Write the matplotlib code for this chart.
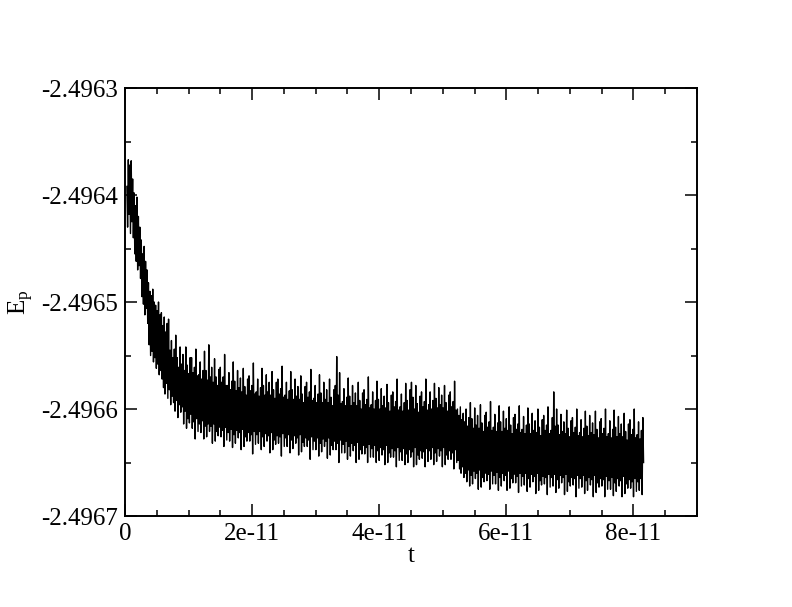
import numpy as np
import matplotlib
matplotlib.use('Agg')
import matplotlib.pyplot as plt
from matplotlib.ticker import MultipleLocator, FixedFormatter, FixedLocator

# time axis: first and last sample time of the run (s)
t_start = 0.03e-11
t_end = 8.16e-11

# potential energy in units of 1e-6 below -2.4960
ep_below = [
    392, 430, 367, 418, 372, 436, 368, 425, 385, 440,
    398, 455, 410, 462, 402, 470, 420, 466, 430, 478,
    442, 495, 455, 502, 448, 512, 462, 506, 470, 520,
    482, 540, 490, 550, 494, 546, 488, 556, 500, 552,
    503, 562, 508, 558, 500, 568, 512, 564, 510, 572,
    522, 580, 514, 586, 528, 576, 520, 590, 516, 582,
    545, 596, 536, 588, 552, 594, 544, 602, 531, 592,
    552, 608, 561, 596, 542, 603, 558, 598, 549, 614,
    564, 602, 542, 618, 559, 609, 567, 613, 552, 605,
    552, 618, 566, 612, 561, 628, 544, 609, 569, 621,
    568, 614, 556, 622, 572, 611, 564, 628, 546, 616,
    564, 626, 573, 614, 540, 621, 570, 616, 561, 632,
    575, 614, 553, 630, 570, 621, 578, 625, 563, 617,
    561, 626, 575, 620, 570, 635, 549, 617, 578, 629,
    578, 622, 566, 630, 582, 619, 574, 636, 556, 624,
    574, 632, 583, 620, 564, 627, 580, 622, 571, 638,
    584, 619, 562, 635, 579, 626, 587, 630, 572, 622,
    569, 630, 583, 624, 578, 642, 557, 621, 586, 633,
    584, 624, 572, 632, 588, 621, 580, 638, 562, 626,
    578, 635, 587, 623, 568, 630, 584, 625, 575, 641,
    587, 622, 565, 638, 582, 629, 590, 633, 575, 625,
    572, 632, 586, 626, 581, 644, 560, 623, 589, 635,
    587, 627, 575, 635, 591, 624, 583, 641, 565, 629,
    582, 637, 591, 625, 572, 632, 588, 627, 579, 643,
    591, 624, 569, 640, 586, 631, 594, 635, 579, 627,
    575, 635, 589, 629, 584, 647, 563, 626, 592, 638,
    590, 630, 578, 638, 594, 627, 586, 644, 568, 632,
    585, 640, 594, 628, 575, 635, 591, 630, 582, 646,
    594, 627, 572, 643, 589, 634, 597, 638, 582, 630,
    578, 638, 551, 632, 587, 650, 566, 629, 595, 641,
    593, 633, 581, 641, 597, 630, 589, 647, 571, 635,
    588, 644, 597, 632, 578, 639, 594, 634, 585, 650,
    597, 631, 575, 647, 592, 638, 600, 642, 585, 634,
    582, 642, 596, 636, 591, 650, 570, 633, 599, 645,
    596, 637, 584, 645, 600, 634, 592, 650, 574, 639,
    591, 648, 600, 636, 581, 643, 597, 638, 588, 652,
    599, 634, 577, 650, 594, 641, 602, 645, 587, 637,
    584, 645, 598, 639, 593, 654, 572, 636, 601, 648,
    598, 640, 586, 648, 602, 637, 594, 652, 576, 642,
    592, 650, 601, 638, 582, 645, 575, 640, 589, 654,
    600, 636, 578, 652, 595, 643, 603, 647, 588, 639,
    584, 646, 598, 640, 593, 654, 572, 637, 601, 649,
    596, 639, 584, 647, 600, 636, 592, 652, 576, 641,
    590, 649, 599, 637, 580, 644, 596, 639, 587, 654,
    599, 636, 578, 652, 594, 643, 602, 647, 587, 639,
    584, 647, 598, 641, 593, 656, 574, 638, 601, 650,
    600, 648, 606, 656, 598, 660, 610, 654, 604, 664,
    612, 660, 600, 668, 616, 657, 608, 672, 594, 662,
    609, 670, 618, 658, 599, 665, 615, 660, 606, 675,
    618, 657, 596, 673, 613, 664, 621, 668, 606, 660,
    603, 667, 617, 661, 612, 675, 593, 658, 620, 670,
    617, 662, 605, 670, 621, 659, 613, 676, 597, 664,
    612, 672, 621, 660, 602, 667, 618, 662, 609, 676,
    620, 658, 598, 674, 615, 665, 623, 669, 608, 661,
    605, 669, 619, 663, 614, 678, 597, 660, 622, 672,
    619, 663, 607, 671, 623, 660, 615, 677, 599, 665,
    614, 673, 623, 661, 604, 668, 620, 663, 611, 679,
    622, 660, 600, 676, 617, 667, 625, 671, 610, 663,
    606, 670, 620, 664, 615, 680, 598, 661, 623, 673,
    620, 664, 608, 672, 584, 661, 616, 678, 600, 666,
    615, 674, 624, 662, 605, 669, 621, 664, 612, 680,
    623, 661, 601, 677, 618, 668, 626, 672, 611, 664,
    608, 671, 622, 665, 617, 682, 600, 662, 625, 674,
    622, 665, 610, 673, 626, 662, 618, 679, 602, 667,
    616, 676, 625, 664, 606, 671, 622, 666, 613, 682,
    624, 662, 602, 678, 619, 669, 627, 673, 612, 665,
    609, 672, 623, 666, 618, 682, 600, 663, 626, 675,
    623, 667, 611, 675, 627, 664, 619, 681, 601, 669,
    617, 677, 626, 665, 607, 672, 623, 667, 614, 682,
    626, 663, 604, 679, 621, 670, 629, 674, 614, 666,
    610, 674, 624, 668, 619, 682, 600, 665, 627, 677,
    624, 668, 612, 676, 628, 665, 620, 680, 608, 650,
]

x_ticks = [0, 2e-11, 4e-11, 6e-11, 8e-11]
x_labels = ['0', '2e-11', '4e-11', '6e-11', '8e-11']
y_ticks = [-2.4967, -2.4966, -2.4965, -2.4964, -2.4963]
y_labels = ['-2.4967', '-2.4966', '-2.4965', '-2.4964', '-2.4963']

ep = -2.4960 - np.array(ep_below) * 1e-6
t = np.linspace(t_start, t_end, len(ep))

plt.rcParams['font.family'] = 'Liberation Serif'
plt.rcParams['mathtext.fontset'] = 'custom'
plt.rcParams['mathtext.rm'] = 'Liberation Serif'
plt.rcParams['mathtext.it'] = 'Liberation Serif'

fig = plt.figure(figsize=(7.92, 6.07), dpi=100)
ax = fig.add_axes([0.1578, 0.1499, 0.7222, 0.7051])
ax.plot(t, ep, color='black', lw=1.0)

ax.set_xlim(0, 9e-11)
ax.set_ylim(-2.4967, -2.4963)
ax.xaxis.set_major_locator(FixedLocator(x_ticks))
ax.xaxis.set_major_formatter(FixedFormatter(x_labels))
ax.xaxis.set_minor_locator(MultipleLocator(0.5e-11))
ax.yaxis.set_major_locator(FixedLocator(y_ticks))
ax.yaxis.set_major_formatter(FixedFormatter(y_labels))
ax.yaxis.set_minor_locator(MultipleLocator(0.00005))

ax.tick_params(which='both', direction='in', top=True, right=True,
               width=1.1, labelsize=18, pad=5)
ax.tick_params(which='major', length=8.5)
ax.tick_params(which='minor', length=4.3)
for s in ax.spines.values():
    s.set_linewidth(1.4)

ax.set_xlabel('t', fontsize=18, labelpad=0)
ax.set_ylabel(r'E$_\mathrm{p}$', fontsize=18, labelpad=4)

fig.savefig('out.png', dpi=100)
